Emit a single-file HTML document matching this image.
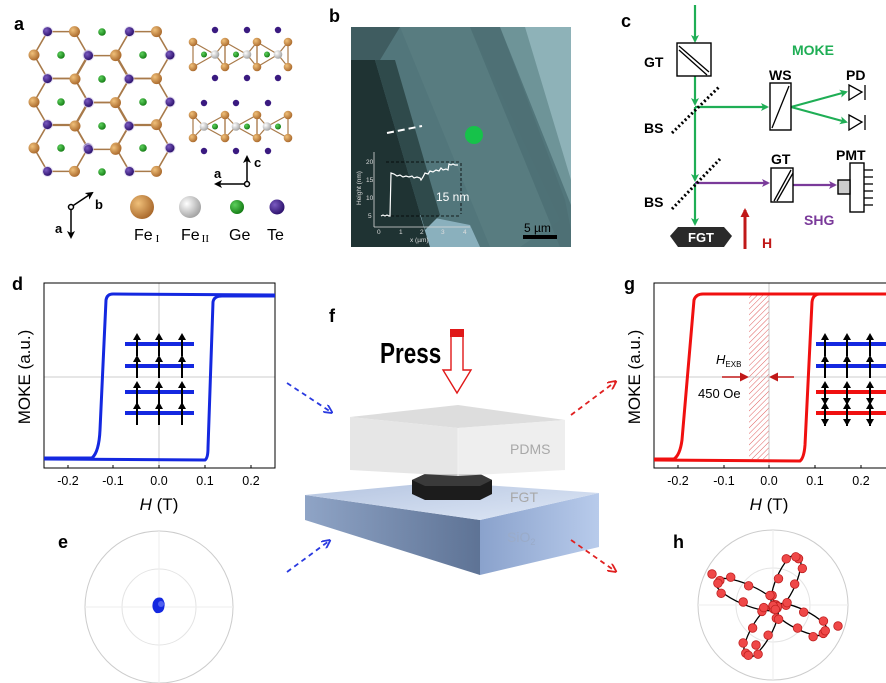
<!DOCTYPE html>
<html><head><meta charset="utf-8">
<style>
html,body{margin:0;padding:0;background:#fff;}
svg{display:block;font-family:"Liberation Sans",Arial,sans-serif;}
.lbl{font-weight:bold;font-size:18px;}
.tk{font-size:12.5px;}
</style></head>
<body>
<svg id="s" width="886" height="683" viewBox="0 0 886 683" xmlns="http://www.w3.org/2000/svg">
<defs>
<radialGradient id="gBr" cx="35%" cy="35%" r="70%"><stop offset="0" stop-color="#f0c07a"/><stop offset="1" stop-color="#a8672a"/></radialGradient>
<radialGradient id="gGy" cx="35%" cy="35%" r="70%"><stop offset="0" stop-color="#ffffff"/><stop offset="1" stop-color="#a0a0a0"/></radialGradient>
<radialGradient id="gGn" cx="35%" cy="35%" r="70%"><stop offset="0" stop-color="#5cd05c"/><stop offset="1" stop-color="#137a13"/></radialGradient>
<radialGradient id="gPu" cx="35%" cy="35%" r="70%"><stop offset="0" stop-color="#7a5ac0"/><stop offset="1" stop-color="#2a0f6a"/></radialGradient>
<linearGradient id="sioL" x1="0" y1="0" x2="1" y2="0"><stop offset="0" stop-color="#8fa4c6"/><stop offset="1" stop-color="#5e7395"/></linearGradient>
<linearGradient id="sioR" x1="0" y1="0" x2="1" y2="0"><stop offset="0" stop-color="#8aa2cc"/><stop offset="1" stop-color="#b8cbeb"/></linearGradient>
<linearGradient id="sioT" x1="0" y1="0" x2="1" y2="1"><stop offset="0" stop-color="#b4c4e0"/><stop offset="1" stop-color="#dfe8f6"/></linearGradient>
<pattern id="hatch" width="4" height="4" patternUnits="userSpaceOnUse" patternTransform="rotate(45)"><line x1="0" y1="0" x2="0" y2="4" stroke="#e06060" stroke-width="1"/></pattern>
<marker id="ag" markerWidth="8" markerHeight="8" refX="6" refY="4" orient="auto" markerUnits="userSpaceOnUse"><path d="M0,0 L8,4 L0,8 L2,4z" fill="#1fae55"/></marker>
<marker id="ap" markerWidth="8" markerHeight="8" refX="6" refY="4" orient="auto" markerUnits="userSpaceOnUse"><path d="M0,0 L8,4 L0,8 L2,4z" fill="#7a3a9a"/></marker>
<marker id="ak" markerWidth="8" markerHeight="8" refX="6" refY="4" orient="auto" markerUnits="userSpaceOnUse"><path d="M0,0 L8,4 L0,8 L2,4z" fill="#000"/></marker>
<marker id="ab" markerWidth="9" markerHeight="9" refX="7" refY="4.5" orient="auto" markerUnits="userSpaceOnUse"><path d="M0,0 L9,4.5 L0,9" fill="none" stroke="#2a3ae0" stroke-width="1.8"/></marker>
<marker id="ar" markerWidth="9" markerHeight="9" refX="7" refY="4.5" orient="auto" markerUnits="userSpaceOnUse"><path d="M0,0 L9,4.5 L0,9" fill="none" stroke="#e02020" stroke-width="1.8"/></marker>
<marker id="arr" markerWidth="9" markerHeight="9" refX="7" refY="4.5" orient="auto" markerUnits="userSpaceOnUse"><path d="M0,0 L9,4.5 L0,9z" fill="#c01818"/></marker>
</defs>

<!-- ===== Panel a ===== -->
<text class="lbl" x="14" y="30">a</text>
<g id="hex"></g>
<g id="side"></g>
<g stroke="#000" stroke-width="1.5" fill="none">
<line x1="71" y1="207" x2="92" y2="193" marker-end="url(#ak)"/>
<line x1="71" y1="207" x2="71" y2="237" marker-end="url(#ak)"/>
<line x1="247" y1="184" x2="247" y2="157" marker-end="url(#ak)"/>
<line x1="247" y1="184" x2="216" y2="184" marker-end="url(#ak)"/>
</g>
<circle cx="71" cy="207" r="2.5" fill="#fff" stroke="#000" stroke-width="1.5"/>
<circle cx="247" cy="184" r="2.5" fill="#fff" stroke="#000" stroke-width="1.5"/>
<text x="95" y="209" font-size="13" font-weight="bold">b</text>
<text x="55" y="233" font-size="13" font-weight="bold">a</text>
<text x="254" y="167" font-size="13" font-weight="bold">c</text>
<text x="214" y="178" font-size="13" font-weight="bold">a</text>
<circle cx="142" cy="207" r="12" fill="url(#gBr)"/>
<circle cx="190" cy="207" r="11" fill="url(#gGy)"/>
<circle cx="237" cy="207" r="7" fill="url(#gGn)"/>
<circle cx="277" cy="207" r="7.5" fill="url(#gPu)"/>
<text x="134" y="240" font-size="16">Fe<tspan font-size="11" dx="3" dy="2" font-family="Liberation Serif">I</tspan></text>
<text x="181" y="240" font-size="16">Fe<tspan font-size="11" dx="2" dy="2" font-family="Liberation Serif">II</tspan></text>
<text x="229" y="240" font-size="16">Ge</text>
<text x="267" y="240" font-size="16">Te</text>

<!-- ===== Panel b ===== -->
<text class="lbl" x="329" y="22">b</text>
<g>
<rect x="351" y="27" width="220" height="220" fill="#52767b"/>
<polygon points="351,27 400,27 380,60 351,60" fill="#3f5c60"/>
<polygon points="400,27 470,27 560,220 520,247 490,247" fill="#587c80"/>
<polygon points="470,27 500,27 565,200 571,230 571,247 560,247" fill="#4e7074" opacity="0.9"/>
<polygon points="520,27 571,27 571,200" fill="#8eb2b8"/>
<polygon points="500,27 525,27 571,180 571,205" fill="#6e9498"/>
<polygon points="351,60 375,60 425,230 430,247 351,247" fill="#1f3333"/>
<polygon points="420,215 470,225 480,247 430,247" fill="#8ab0bd"/>
<polygon points="375,60 395,60 440,215 425,230" fill="#2f4a4b"/>
</g>
<line x1="387" y1="133" x2="422" y2="126" stroke="#fff" stroke-width="2" stroke-dasharray="7,4"/>
<circle cx="474" cy="135" r="9" fill="#16c24a"/>
<g stroke="#ddd" stroke-width="0.8" fill="none">
<line x1="374" y1="152" x2="374" y2="227"/>
<line x1="374" y1="227" x2="470" y2="227"/>
</g>
<g fill="#ddd" font-size="6.5">
<text x="366" y="164">20</text><text x="366" y="182">15</text><text x="366" y="200">10</text><text x="368" y="218">5</text>
<text x="377" y="234">0</text><text x="399" y="234">1</text><text x="420" y="234">2</text><text x="441" y="234">3</text><text x="463" y="234">4</text>
<text x="410" y="242">x (µm)</text>
<text transform="translate(361,205) rotate(-90)">Height (nm)</text>
</g>
<g stroke="#000" stroke-width="0.8" fill="none" stroke-dasharray="3,2">
<line x1="386" y1="162" x2="461" y2="162"/>
<line x1="386" y1="216" x2="461" y2="216"/>
<line x1="461" y1="163" x2="461" y2="214"/>
</g>
<path d="M381,216 l2,-1 2,1 2,-1 2,1 1,0 1,-43 3,1 3,2 3,-1 3,2 3,-1 3,1 3,-1 2,2 3,-1 3,1 1,2 2,-3 2,-4 3,1 2,-3 3,1 3,-2 3,1 2,-3 2,2 3,-1 2,1 1,-6 2,1 2,-1 2,1 3,0" fill="none" stroke="#fff" stroke-width="1.2"/>
<text x="436" y="201" font-size="12" fill="#fff">15 nm</text>
<rect x="523" y="235" width="34" height="4" fill="#000"/>
<text x="524" y="232" font-size="12" fill="#000">5 µm</text>

<!-- ===== Panel c ===== -->
<text class="lbl" x="621" y="27">c</text>
<g stroke="#1fae55" stroke-width="2.2" fill="none">
<line x1="695" y1="5" x2="695" y2="41" marker-end="url(#ag)"/>
<line x1="695" y1="76" x2="695" y2="104" marker-end="url(#ag)"/>
<line x1="695" y1="107" x2="695" y2="180" marker-end="url(#ag)"/>
<line x1="695" y1="183" x2="695" y2="224" marker-end="url(#ag)"/>
<line x1="695" y1="107" x2="767" y2="107" marker-end="url(#ag)"/>
<line x1="791" y1="107" x2="846" y2="92" marker-end="url(#ag)"/>
<line x1="791" y1="107" x2="846" y2="122" marker-end="url(#ag)"/>
</g>
<line x1="695" y1="183" x2="768" y2="183" stroke="#7a3a9a" stroke-width="2.2" marker-end="url(#ap)"/>
<line x1="793" y1="185" x2="835" y2="185" stroke="#7a3a9a" stroke-width="2.2" marker-end="url(#ap)"/>
<g stroke="#000" stroke-width="1.4" fill="#fff">
<rect x="677" y="43" width="34" height="33"/>
<rect x="770" y="83" width="21" height="47"/>
<rect x="771" y="168" width="22" height="34"/>
<rect x="850" y="163" width="14" height="49"/>
<rect x="838" y="180" width="12" height="14" fill="#ccc"/>
</g>
<g stroke="#000" stroke-width="1.3" fill="none">
<line x1="679" y1="46" x2="709" y2="72"/><line x1="679" y1="50" x2="707" y2="75"/>
<line x1="772" y1="128" x2="789" y2="86"/>
<line x1="774" y1="201" x2="791" y2="170"/><line x1="777" y1="201" x2="793" y2="173"/>
<path d="M849,85 L862,92 L849,100z M865,85 L865,100"/>
<path d="M849,115 L862,122 L849,130z M865,115 L865,130"/>
<line x1="864" y1="170" x2="873" y2="170"/><line x1="864" y1="177" x2="873" y2="177"/><line x1="864" y1="184" x2="873" y2="184"/><line x1="864" y1="191" x2="873" y2="191"/><line x1="864" y1="198" x2="873" y2="198"/><line x1="864" y1="205" x2="873" y2="205"/>
</g>
<g stroke="#000" stroke-width="3" stroke-dasharray="2,2.5">
<line x1="672" y1="133" x2="720" y2="86"/>
<line x1="672" y1="209" x2="720" y2="159"/>
</g>
<path d="M678,227 L724,227 L732,236 L724,247 L678,247 L670,236z" fill="#2a2a2a"/>
<text x="701" y="242" font-size="13" font-weight="bold" fill="#fff" text-anchor="middle">FGT</text>
<line x1="745" y1="249" x2="745" y2="210" stroke="#c01818" stroke-width="3" marker-end="url(#arr)"/>
<g font-weight="bold" font-size="14">
<text x="644" y="67">GT</text>
<text x="644" y="133">BS</text>
<text x="644" y="207">BS</text>
<text x="769" y="80">WS</text>
<text x="846" y="80">PD</text>
<text x="771" y="164">GT</text>
<text x="836" y="160">PMT</text>
<text x="792" y="55" fill="#1fae55">MOKE</text>
<text x="804" y="225" fill="#7a3a9a">SHG</text>
<text x="762" y="248" fill="#c01818">H</text>
</g>

<!-- ===== Panel d ===== -->
<text class="lbl" x="12" y="290">d</text>
<line x1="159" y1="283" x2="159" y2="468" stroke="#bbb" stroke-width="0.8"/>
<line x1="44" y1="377" x2="275" y2="377" stroke="#bbb" stroke-width="0.8"/>
<rect x="44" y="283" width="231" height="185" fill="none" stroke="#000" stroke-width="1"/>
<g stroke="#1428e0" stroke-width="3" fill="none">
<path d="M44,458 L92,458 Q99,452 100,430 L106,300 Q107,294 113,294 L275,295"/>
<path d="M44,459 L205,460 Q208,458 208,448 L213,302 Q214,296 222,296 L275,296"/>
</g>
<g stroke="#000" stroke-width="1"><line x1="68" y1="468" x2="68" y2="465"/><line x1="113" y1="468" x2="113" y2="465"/><line x1="159" y1="468" x2="159" y2="465"/><line x1="205" y1="468" x2="205" y2="465"/><line x1="251" y1="468" x2="251" y2="465"/></g>
<g class="tk" text-anchor="middle"><text x="68" y="485">-0.2</text><text x="113" y="485">-0.1</text><text x="159" y="485">0.0</text><text x="205" y="485">0.1</text><text x="251" y="485">0.2</text></g>
<text x="159" y="510" font-size="17" text-anchor="middle"><tspan font-style="italic">H</tspan> (T)</text>
<text transform="translate(30,377) rotate(-90)" font-size="17" text-anchor="middle">MOKE (a.u.)</text>
<g id="spinD"></g>

<!-- ===== Panel g ===== -->
<text class="lbl" x="624" y="290">g</text>
<rect x="749" y="294" width="20" height="165" fill="url(#hatch)"/>
<line x1="769" y1="283" x2="769" y2="468" stroke="#bbb" stroke-width="0.8"/>
<line x1="654" y1="377" x2="886" y2="377" stroke="#bbb" stroke-width="0.8"/>
<rect x="654" y="283" width="240" height="185" fill="none" stroke="#000" stroke-width="1"/>
<g stroke="#f01010" stroke-width="3" fill="none">
<path d="M654,459 L674,459 Q680,455 682,440 L694,300 Q696,294 703,294 L886,294"/>
<path d="M654,460 L800,461 Q804,458 805,445 L812,302 Q813,294 820,294 L886,294"/>
</g>
<g stroke="#000" stroke-width="1"><line x1="678" y1="468" x2="678" y2="465"/><line x1="724" y1="468" x2="724" y2="465"/><line x1="769" y1="468" x2="769" y2="465"/><line x1="815" y1="468" x2="815" y2="465"/><line x1="861" y1="468" x2="861" y2="465"/></g>
<g class="tk" text-anchor="middle"><text x="678" y="485">-0.2</text><text x="724" y="485">-0.1</text><text x="769" y="485">0.0</text><text x="815" y="485">0.1</text><text x="861" y="485">0.2</text></g>
<text x="769" y="510" font-size="17" text-anchor="middle"><tspan font-style="italic">H</tspan> (T)</text>
<text transform="translate(640,377) rotate(-90)" font-size="17" text-anchor="middle">MOKE (a.u.)</text>
<text x="716" y="364" font-size="13"><tspan font-style="italic">H</tspan><tspan font-size="8" dy="3">EXB</tspan></text>
<text x="698" y="398" font-size="13">450 Oe</text>
<line x1="722" y1="377" x2="747" y2="377" stroke="#c01818" stroke-width="1.6" marker-end="url(#arr)"/>
<line x1="794" y1="377" x2="771" y2="377" stroke="#c01818" stroke-width="1.6" marker-end="url(#arr)"/>
<g id="spinG"></g>

<!-- ===== Panel f ===== -->
<text class="lbl" x="329" y="322">f</text>
<text x="380" y="363" font-size="25" font-weight="bold" transform="translate(380,363) scale(0.9,1.15) translate(-380,-363)">Press</text>
<rect x="450" y="329" width="14" height="8" fill="#e01818"/>
<path d="M451,337 L451,370 L443,370 L457,393 L471,370 L463,370 L463,337" fill="#fff" stroke="#e01818" stroke-width="1.4"/>
<polygon points="305,495 480,520 480,575 305,520" fill="url(#sioL)"/>
<polygon points="480,520 599,493 599,547 480,575" fill="url(#sioR)"/>
<polygon points="305,495 441,482 599,493 480,520" fill="url(#sioT)"/>
<polygon points="412,480 425,474 480,474 492,480 492,494 480,500 425,500 412,494" fill="#1c1c1c"/>
<polygon points="412,480 425,474 480,474 492,480 480,486 425,486" fill="#3a3a3a"/>
<polygon points="350,417 458,405 565,420 458,428" fill="#d4d4d4" opacity="0.8"/>
<polygon points="350,417 458,428 458,476 350,470" fill="#e2e2e2" opacity="0.85"/>
<polygon points="458,428 565,420 565,470 458,476" fill="#ebebeb" opacity="0.85"/>
<line x1="458" y1="428" x2="458" y2="476" stroke="#f4f4f4" stroke-width="0.8"/>
<text x="510" y="454" font-size="14" fill="#a8a8a8">PDMS</text>
<text x="510" y="502" font-size="14" fill="#a8a8a8">FGT</text>
<text x="507" y="542" font-size="14" fill="#9aabc8">SiO<tspan font-size="9" dy="3">2</tspan></text>
<g stroke-width="1.8" fill="none" stroke-dasharray="5,4">
<line x1="287" y1="383" x2="331" y2="412" stroke="#2a3ae0" marker-end="url(#ab)"/>
<line x1="287" y1="572" x2="329" y2="541" stroke="#2a3ae0" marker-end="url(#ab)"/>
<line x1="571" y1="415" x2="615" y2="382" stroke="#e02020" marker-end="url(#ar)"/>
<line x1="571" y1="540" x2="615" y2="571" stroke="#e02020" marker-end="url(#ar)"/>
</g>

<!-- ===== Panel e ===== -->
<text class="lbl" x="58" y="548">e</text>
<g stroke="#ccc" stroke-width="1" fill="none">
<ellipse cx="159" cy="607" rx="74" ry="76"/>
<ellipse cx="159" cy="607" rx="37" ry="38" stroke="#e4e4e4"/>
<line x1="85" y1="607" x2="233" y2="607" stroke="#eee"/><line x1="159" y1="531" x2="159" y2="683" stroke="#eee"/>
</g>
<path d="M153,602 Q156,596 162,598 Q166,602 164,609 Q162,614 156,613 Q151,609 153,602z" fill="#1428e0"/>
<circle cx="161" cy="604" r="3" fill="#5060f0"/>

<!-- ===== Panel h ===== -->
<text class="lbl" x="673" y="548">h</text>
<g stroke="#ccc" stroke-width="1" fill="none">
<circle cx="773" cy="605" r="75"/>
<circle cx="773" cy="605" r="37" stroke="#e4e4e4"/>
<line x1="698" y1="605" x2="848" y2="605" stroke="#eee"/><line x1="773" y1="530" x2="773" y2="680" stroke="#eee"/>
</g>
<g id="rose"></g>
</svg>
<script>
var NS="http://www.w3.org/2000/svg";
function el(p,t,a){var e=document.createElementNS(NS,t);for(var k in a)e.setAttribute(k,a[k]);p.appendChild(e);return e;}
var hx=document.getElementById("hex");
var R=27,cs=[[61,55],[61,102],[61,148],[143,55],[143,102],[143,148],[102,79],[102,126]];
var verts={};
cs.forEach(function(c){
 var pts=[];
 for(var i=0;i<6;i++){var a=i*Math.PI/3;var x=c[0]+R*Math.cos(a),y=c[1]+R*Math.sin(a);pts.push([x,y]);verts[Math.round(x/3)+","+Math.round(y/3)]=[x,y,i%2==0];}
 for(var i=0;i<6;i++){var p=pts[i],q=pts[(i+1)%6];el(hx,"line",{x1:p[0],y1:p[1],x2:q[0],y2:q[1],stroke:"#a87a4a","stroke-width":1.6});}
});
[[61,55],[61,102],[61,148],[143,55],[143,102],[143,148],[102,79],[102,126],[102,32],[102,172]].forEach(function(c){el(hx,"circle",{cx:c[0],cy:c[1],r:3.8,fill:"url(#gGn)"});});
for(var k in verts){var v=verts[k];if(v[2]){el(hx,"circle",{cx:v[0],cy:v[1],r:5.5,fill:"#d0c8e6",opacity:0.6});el(hx,"circle",{cx:v[0],cy:v[1],r:4.5,fill:"url(#gPu)"});}else el(hx,"circle",{cx:v[0],cy:v[1],r:5.5,fill:"url(#gBr)"});}
var sd=document.getElementById("side");
function sideGroup(yT,yB,pX,gyX,gnX,pyT,pyB){
 var bx=[193,225,257,288],ym=(yT+yB)/2;
 gyX.forEach(function(x,i){var l=bx[i],r=bx[i+1];
  [[l,yT,x,ym],[l,yB,x,ym],[r,yT,x,ym],[r,yB,x,ym],[l,yT,l,yB],[r,yT,r,yB]].forEach(function(s){el(sd,"line",{x1:s[0],y1:s[1],x2:s[2],y2:s[3],stroke:"#a87a4a","stroke-width":1.2});});
 });
 pX.forEach(function(x){el(sd,"circle",{cx:x,cy:pyT,r:3.2,fill:"#3a1a80"});el(sd,"circle",{cx:x,cy:pyB,r:3.2,fill:"#3a1a80"});});
 bx.forEach(function(x){el(sd,"circle",{cx:x,cy:yT,r:4.3,fill:"url(#gBr)"});el(sd,"circle",{cx:x,cy:yB,r:4.3,fill:"url(#gBr)"});});
 gyX.forEach(function(x){el(sd,"circle",{cx:x,cy:ym,r:4.3,fill:"url(#gGy)"});});
 gnX.forEach(function(x){el(sd,"circle",{cx:x,cy:ym,r:3,fill:"url(#gGn)"});});
}
sideGroup(42,67,[215,247,278],[215,247,278],[204,236,267],30,78);
sideGroup(115,138,[204,236,268],[204,236,267],[215,247,278],103,151);
function spins(id,x0,x1,ax,colsBars,dbl){
 var g=document.getElementById(id);
 var bars=[344,366,392,413];
 bars.forEach(function(y,i){el(g,"line",{x1:x0,y1:y,x2:x1,y2:y,stroke:colsBars[i],"stroke-width":4});});
 var rows=[[356,333],[378,355],[404,381],[425,402]];
 rows.forEach(function(r,i){ax.forEach(function(x){
   var dn=dbl&&i>=2;
   el(g,"line",{x1:x,y1:r[0]-(dn?-1:0),x2:x,y2:r[1]+5,stroke:"#000","stroke-width":2});
   el(g,"path",{d:"M"+(x-4)+","+(r[1]+7)+" L"+x+","+r[1]+" L"+(x+4)+","+(r[1]+7)+"z",fill:"#000"});
   if(dn)el(g,"path",{d:"M"+(x-4)+","+(r[0]-6)+" L"+x+","+(r[0]+1)+" L"+(x+4)+","+(r[0]-6)+"z",fill:"#000"});
 });});
}
spins("spinD",125,194,[137,159,182],["#1428e0","#1428e0","#1428e0","#1428e0"],false);
spins("spinG",816,886,[825,847,870],["#1428e0","#1428e0","#f01010","#f01010"],true);
var rs=document.getElementById("rose");
var c=[775,607],tips=[[717,582],[797,556],[826,632],[747,656]];
var pts=[];
tips.forEach(function(t){
 var dx=t[0]-c[0],dy=t[1]-c[1],L=Math.sqrt(dx*dx+dy*dy),ang=Math.atan2(dy,dx);
 var mx=c[0]+dx/2,my=c[1]+dy/2,rx=L/2+2,ry=10;
 el(rs,"ellipse",{cx:mx,cy:my,rx:rx,ry:ry,fill:"none",stroke:"#000","stroke-width":1.3,transform:"rotate("+(ang*180/Math.PI)+" "+mx+" "+my+")"});
 [0.35,0.9,1.6,2.3,2.8,3.5,4.1,4.7,5.4,6.0].forEach(function(th,j){
  var u=rx*Math.cos(th)+(j%3-1)*2,v=ry*Math.sin(th)+(j%2?2:-1);
  var x=mx+u*Math.cos(ang)-v*Math.sin(ang),y=my+u*Math.sin(ang)+v*Math.cos(ang);pts.push([x,y]);});
});
pts.push([712,574],[838,626],[756,645]);
pts.forEach(function(p){el(rs,"circle",{cx:p[0],cy:p[1],r:4.3,fill:"#ef4848",stroke:"#c02020","stroke-width":0.8});});
</script>
</body></html>
